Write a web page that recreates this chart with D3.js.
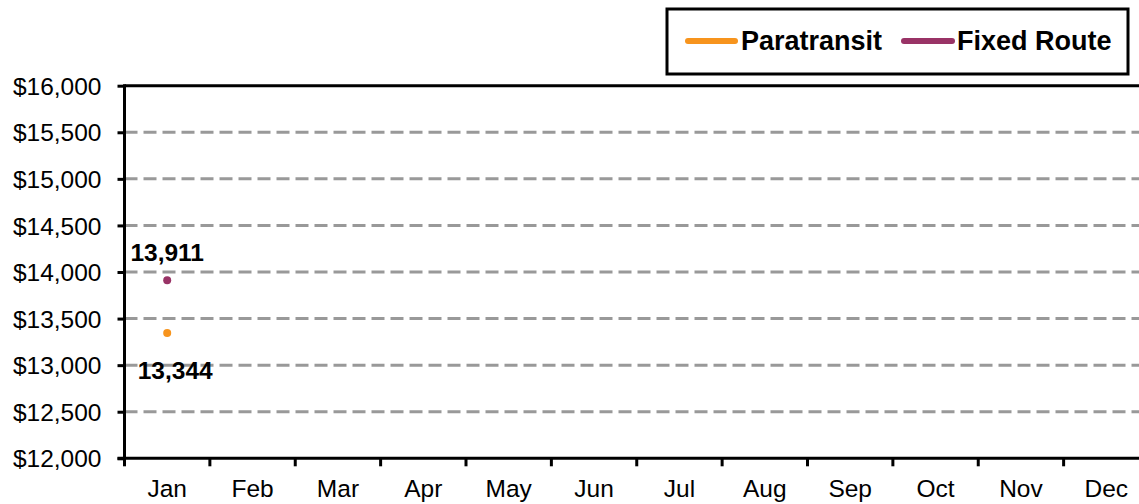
<!DOCTYPE html>
<html><head><meta charset="utf-8">
<script src="https://cdn.jsdelivr.net/npm/d3@7"></script>
<style>
body{margin:0;background:#fff;}
svg{display:block;font-family:"Liberation Sans",Arial,sans-serif;}
</style></head>
<body>
<svg id="c" width="1139" height="504"></svg>
<script>
const months = ["Jan","Feb","Mar","Apr","May","Jun","Jul","Aug","Sep","Oct","Nov","Dec"];
const seriesNames = ["Paratransit","Fixed Route"];
const paratransit = [13344,null,null,null,null,null,null,null,null,null,null,null];
const fixedRoute = [13911,null,null,null,null,null,null,null,null,null,null,null];
const yTicks = [12000,12500,13000,13500,14000,14500,15000,15500,16000];
const colors = {"Paratransit":"#f7941d","Fixed Route":"#993366"};

(function(){
const svg = d3.select("#c");
const pL = 124.5, pR = 1149, pT = 85.7, pB = 458.3;
const x = d3.scaleBand().domain(months).range([pL, pR]);
const y = d3.scaleLinear().domain([12000,16000]).range([pB, pT]);

// gridlines
svg.append("g").selectAll("line").data(yTicks.filter(v=>v>12000 && v<16000)).join("line")
  .attr("x1", pL).attr("x2", 1139).attr("y1", d=>y(d)).attr("y2", d=>y(d))
  .attr("stroke","#999").attr("stroke-width",3).attr("stroke-dasharray","13,6");
// top border
svg.append("line").attr("x1",pL).attr("x2",1139).attr("y1",y(16000)).attr("y2",y(16000))
  .attr("stroke","#000").attr("stroke-width",3);

const fmt = d3.format(",");
const yAxis = svg.append("g").attr("transform",`translate(${pL},0)`)
  .call(d3.axisLeft(y).tickValues(yTicks).tickSize(7).tickPadding(16).tickFormat(d=>"$"+fmt(d)));
yAxis.select(".domain").attr("stroke","#000").attr("stroke-width",3).attr("d",`M0,${pT-1.5}V${pB+1.5}`);
yAxis.selectAll(".tick line").attr("stroke","#000").attr("stroke-width",3);
yAxis.selectAll("text").attr("font-size",24.5).attr("fill","#000").attr("dy","0.35em");

const xTickPos = d3.range(13).map(i=>pL + i*x.step());
const xAxis = svg.append("g").attr("transform",`translate(0,${pB})`)
  .call(d3.axisBottom(x).tickSize(0).tickPadding(30));
xAxis.select(".domain").attr("stroke","#000").attr("stroke-width",3).attr("d",`M${pL-7},0H1139`);
xAxis.selectAll("text").attr("font-size",24.5).attr("fill","#000").attr("dy","0.35em");
svg.append("g").selectAll("line").data(xTickPos).join("line")
  .attr("x1",d=>d).attr("x2",d=>d).attr("y1",pB).attr("y2",pB+8)
  .attr("stroke","#000").attr("stroke-width",3);

// points
const series = [{name:"Paratransit",values:paratransit,dy:46,dx:8},{name:"Fixed Route",values:fixedRoute,dy:-19,dx:0}];
const cx = m => x(m) + x.bandwidth()/2;
series.forEach(s=>{
  const pts = months.map((m,i)=>({m,v:s.values[i]})).filter(d=>d.v!=null);
  const g = svg.append("g");
  g.selectAll("path").data([pts]).join("path")
    .attr("d", d3.line().x(d=>cx(d.m)).y(d=>y(d.v))).attr("fill","none")
    .attr("stroke",colors[s.name]).attr("stroke-width",5);
  g.selectAll("circle").data(pts).join("circle")
    .attr("cx",d=>cx(d.m)).attr("cy",d=>y(d.v)).attr("r",4).attr("fill",colors[s.name]);
  g.selectAll("text").data(pts).join("text")
    .attr("x",d=>cx(d.m)+s.dx).attr("y",d=>y(d.v)+s.dy).attr("text-anchor","middle")
    .attr("font-size",24.5).attr("font-weight","bold").attr("fill","#000").text(d=>fmt(d.v));
});

// legend
const lg = svg.append("g");
lg.append("rect").attr("x",667).attr("y",9).attr("width",461).attr("height",65)
  .attr("fill","#fff").attr("stroke","#000").attr("stroke-width",3);
const legendItems = [{name:"Paratransit",x1:688,x2:735,tx:741},{name:"Fixed Route",x1:904,x2:952,tx:957}];
legendItems.forEach(it=>{
  lg.append("line").attr("x1",it.x1).attr("x2",it.x2).attr("y1",41).attr("y2",41)
    .attr("stroke",colors[it.name]).attr("stroke-width",6).attr("stroke-linecap","round");
  lg.append("text").attr("x",it.tx).attr("y",50).attr("font-size",27).attr("font-weight","bold")
    .attr("fill","#000").text(it.name);
});
})();
</script>
</body></html>
